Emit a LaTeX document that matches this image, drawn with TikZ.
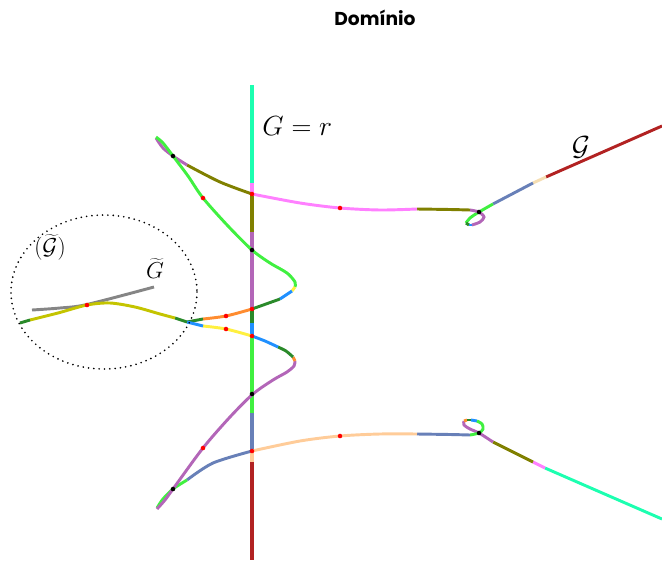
\documentclass[tikz,border=0pt]{standalone}
\usepackage{fontspec}
\setsansfont{Poppins}
\definecolor{cSpring}{HTML}{1CFFB0}
\definecolor{cPink}{HTML}{FF80FF}
\definecolor{cOlive}{HTML}{808000}
\definecolor{cPurple}{HTML}{B366B8}
\definecolor{cDkGreen}{HTML}{2A8A2A}
\definecolor{cBlue}{HTML}{2090FF}
\definecolor{cGreen}{HTML}{40F040}
\definecolor{cSlate}{HTML}{6880B8}
\definecolor{cPeach}{HTML}{FFCC99}
\definecolor{cWheat}{HTML}{F5DEB3}
\definecolor{cFire}{HTML}{B22222}
\definecolor{cOrange}{HTML}{FF8C30}
\definecolor{cYellow}{HTML}{FFF040}
\definecolor{cYOlive}{HTML}{C4C400}
\definecolor{cGray}{HTML}{858585}
\begin{document}
\begin{tikzpicture}[x=0.75pt,y=-0.75pt,line width=2.2pt,
  rdot/.style={fill=red},
  bdot/.style={fill=black},
  vline/.style={line width=2.6pt},
  mathlbl/.style={inner sep=0pt}]
\useasboundingbox (0,0) rectangle (662,561);

% vertical line G = r
\draw[vline,cSpring]  (252,85)  -- (252,183);
\draw[vline,cPink]    (252,183) -- (252,194);
\draw[vline,cOlive]   (252,194) -- (252,232);
\draw[vline,cPurple]  (252,232) -- (252,309);
\draw[vline,cDkGreen] (252,309) -- (252,323);
\draw[vline,cBlue]    (252,323) -- (252,336);
\draw[vline,cGreen]   (252,336) -- (252,413);
\draw[vline,cSlate]   (252,413) -- (252,451);
\draw[vline,cPeach]   (252,451) -- (252,462);
\draw[vline,cFire]    (252,462) -- (252,560);

% upper branch
\draw[cFire]  (662,126) -- (546,177);
\draw[cWheat] (546,177) -- (533,183);
\draw[cSlate] (533,183) -- (493,204);
\draw[cGreen] plot[smooth] coordinates {(493,204) (479,212) (470,218) (466,223)};
\draw[cDkGreen] plot[smooth] coordinates {(466,223) (469,225)};
\draw[cBlue] plot[smooth] coordinates {(469,225) (472,225)};
\draw[cPurple] plot[smooth] coordinates {(472,225) (480,222) (484,217) (479,212) (470,210)};
\draw[cOlive] plot[smooth] coordinates {(470,210) (450,209.5) (417,209)};
\draw[cPink] plot[smooth] coordinates {(417,209) (380,210) (340,208) (300,203) (252,194)};
\draw[cOlive] plot[smooth] coordinates {(252,194) (220,182) (187,165)};
\draw[cPurple] plot[smooth] coordinates {(187,165) (173,156) (163,148) (156,138)};
\draw[cGreen] plot[smooth] coordinates {(156,137) (163,143) (173,156) (188,176) (203,198) (228,226) (252,250) (270,263) (287,273) (295,282) (295,287)};
\draw[cYellow] (295,287) -- (292,291);
\draw[cBlue] plot[smooth] coordinates {(292,291) (286,295) (280,299)};
\draw[cDkGreen] plot[smooth] coordinates {(280,299) (266,304) (252,309)};
\draw[cOrange] plot[smooth] coordinates {(252,309) (226,316) (203,319)};
\draw[cDkGreen] (203,319) -- (187,322);

% lower branch
\draw[cSpring] plot[smooth] coordinates {(662,519) (600,492) (545,468)};
\draw[cPink] (545,468) -- (533,462);
\draw[cOlive] (533,462) -- (493,442);
\draw[cPurple] plot[smooth] coordinates {(493,442) (479,433) (470,429) (464,425) (464,421)};
\draw[cOrange] (464,421) -- (467,420);
\draw[cDkGreen] (467,420) -- (471,420);
\draw[cBlue] (471,420) -- (477,421);
\draw[cGreen] plot[smooth] coordinates {(477,421) (482,424) (483,429) (479,433) (470,435)};
\draw[cSlate] plot[smooth] coordinates {(470,435) (450,434.5) (417,434)};
\draw[cPeach] plot[smooth] coordinates {(417,434) (380,434) (340,436) (300,441) (252,451)};
\draw[cSlate] plot[smooth] coordinates {(252,451) (213,463) (187,480)};
\draw[cGreen] plot[smooth] coordinates {(187,480) (173,489) (163,499) (157,508)};
\draw[cPurple] plot[smooth] coordinates {(157,509) (165,500) (173,489) (203,448) (230,417) (253,394) (273,380) (287,372) (294,366) (295,361)};
\draw[cOrange] (295,361) -- (293,357);
\draw[cDkGreen] plot[smooth] coordinates {(293,357) (286,351) (278,347)};
\draw[cBlue] plot[smooth] coordinates {(278,347) (265,341) (252,336)};
\draw[cYellow] plot[smooth] coordinates {(252,336) (226,329) (203,326)};
\draw[cBlue] (203,326) -- (187,322);

% left branch (inside ellipse)
\draw[cGray] plot[smooth] coordinates {(32,310) (60,308) (87,304.5) (154,287)};
\draw[cDkGreen] (187,322) -- (175,318);
\draw[cYOlive] plot[smooth] coordinates {(175,318) (160,314) (135,307) (110,303) (87,305) (58,313) (30,320)};
\draw[cDkGreen] (30,320) -- (20,323);

% dotted ellipse
\draw[line width=1.4pt, line cap=round, dash pattern=on 0pt off 4pt] (104,292) ellipse [x radius=93, y radius=77];

% dots
\foreach \p in {(252,194),(340,208),(203,198),(252,309),(226,316),(252,336),(226,329),(203,448),(252,451),(340,436),(87,305)}
  \fill[rdot] \p circle[radius=1.7pt];
\foreach \p in {(173,156),(252,250),(479,212),(252,394),(173,489),(479,433)}
  \fill[bdot] \p circle[radius=1.7pt];

% labels
\node[font=\sffamily\bfseries\fontsize{14}{16}\selectfont] (title) at (375,18) {Domínio};
\node[mathlbl, anchor=west, font=\fontsize{20}{22}\selectfont] (lblGr) at (261,126) {$G = r$};
\node[mathlbl, font=\fontsize{20}{22}\selectfont] (lblCalG) at (581,147) {$\mathcal{G}$};
\node[mathlbl, font=\fontsize{17}{19}\selectfont] (lblTG) at (155,268) {$\widetilde{G}$};
\node[mathlbl, font=\fontsize{19}{21}\selectfont] (lblTCG) at (50,247) {$(\widetilde{\mathcal{G}})$};
\end{tikzpicture}
\end{document}
